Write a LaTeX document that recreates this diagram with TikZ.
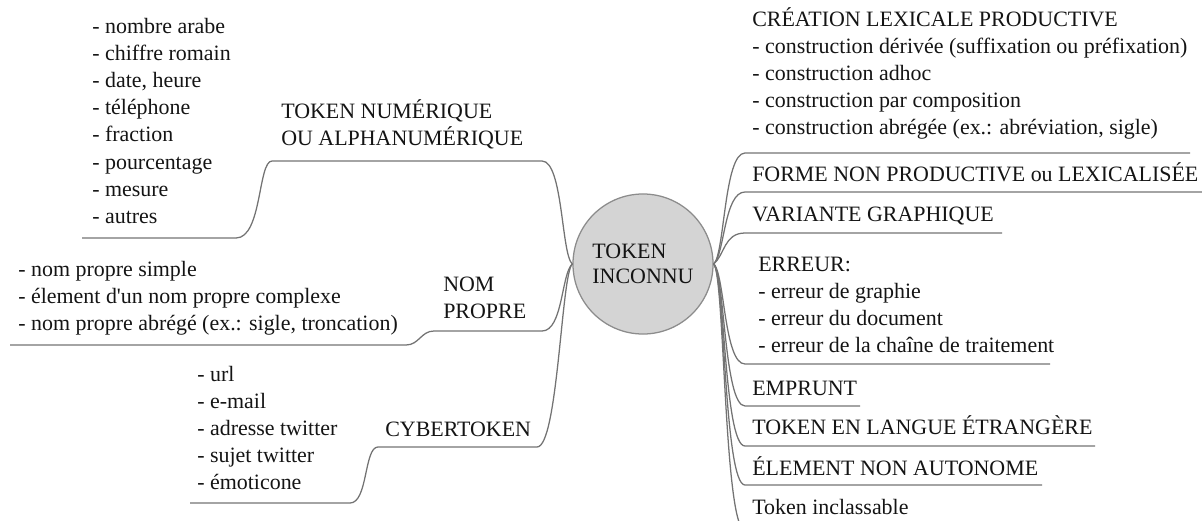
\documentclass[tikz,border=0pt]{standalone}
\usepackage{fontspec}
\setmainfont{Liberation Serif}
\begin{document}
\begin{tikzpicture}[x=0.025cm, y=-0.025cm,
  branch/.style={draw=black!55, line width=0.9pt},
  txt/.style={anchor=base west, inner sep=0pt, text=black!92,
    font=\fontsize{15.6}{19}\selectfont},
  hub/.style={circle, draw=black!45, line width=0.9pt, fill=black!17,
    minimum size=3.5cm, inner sep=0pt, align=left, text=black!92,
    font=\fontsize{15.6}{17.8}\selectfont}]
  \def\Xr{752}
  \def\dy{27.2}
  \useasboundingbox (0,0) rectangle (1202,520);
  \clip (0,0) rectangle (1202,520);

  % centre
  \node[hub] (hub) at (643,264) {TOKEN\\INCONNU};

  % branches right
  \foreach \y/\e/\s [count=\i] in {153/1190/-9, 192/1202/-9, 233/1002/-9,
      364/1050/9, 406/860/9, 446/1095/9, 485/1042/9, 530/1202/9}{
    \coordinate (r\i) at (745,\y);
    \coordinate (r\i e) at (\e,\y);
    \draw[branch] (hub.east) .. controls +(11,\s) and +(-21,0) .. (r\i) -- (r\i e);
  }

  % branches left
  \coordinate (numE) at (542,161);
  \coordinate (numW) at (272,161);
  \coordinate (numS) at (236,238);
  \coordinate (numL) at (82,238);
  \draw[branch] (hub.west) .. controls +(-11,-9) and +(21,0) .. (numE) -- (numW)
    .. controls +(-14,0) and +(26,0) .. (numS) -- (numL);
  \coordinate (nomE) at (542,331);
  \coordinate (nomW) at (434,331);
  \coordinate (nomS) at (406,345);
  \coordinate (nomL) at (10,345);
  \draw[branch] (hub.west) .. controls +(-11,9) and +(21,0) .. (nomE) -- (nomW)
    .. controls +(-13,0) and +(13,0) .. (nomS) -- (nomL);
  \coordinate (cybE) at (537,447);
  \coordinate (cybW) at (378,447);
  \coordinate (cybS) at (350,503);
  \coordinate (cybL) at (190,503);
  \draw[branch] (hub.west) .. controls +(-11,9) and +(21,0) .. (cybE) -- (cybW)
    .. controls +(-14,0) and +(18,0) .. (cybS) -- (cybL);

  % labels right
  \foreach \t [count=\i] in {CRÉATION LEXICALE PRODUCTIVE,
      - construction dérivée (suffixation ou préfixation),
      - construction adhoc, - construction par composition,
      {- construction abrégée (ex.: abréviation, sigle)}}
    \node[txt] (cre\i) at (\Xr, {26+\dy*(\i-1)}) {\t};
  \node[txt] (forme) at (\Xr,181) {FORME NON PRODUCTIVE ou LEXICALISÉE};
  \node[txt] (var) at (\Xr,221) {VARIANTE GRAPHIQUE};
  \foreach \t [count=\i] in {ERREUR:, - erreur de graphie, - erreur du document,
      - erreur de la chaîne de traitement}
    \node[txt] (err\i) at (758, {271+\dy*(\i-1)}) {\t};
  \node[txt] (emp) at (\Xr,395) {EMPRUNT};
  \node[txt] (etr) at (\Xr,434) {TOKEN EN LANGUE ÉTRANGÈRE};
  \node[txt] (elt) at (\Xr,475) {ÉLEMENT NON AUTONOME};
  \node[txt] (incl) at (\Xr,514) {Token inclassable};

  % labels left
  \node[txt] (num1) at (281,118) {TOKEN NUMÉRIQUE};
  \node[txt] (num2) at (281,145) {OU ALPHANUMÉRIQUE};
  \foreach \t [count=\i] in {nombre arabe, chiffre romain, {date, heure},
      téléphone, fraction, pourcentage, mesure, autres}
    \node[txt] (numl\i) at (92, {33+\dy*(\i-1)}) {- \t};
  \node[txt] (nom1) at (443,291) {NOM};
  \node[txt] (nom2) at (443,318) {PROPRE};
  \foreach \t [count=\i] in {nom propre simple,
      élement d\textquotesingle un nom propre complexe,
      {nom propre abrégé (ex.: sigle, troncation)}}
    \node[txt] (noml\i) at (18, {276+\dy*(\i-1)}) {- \t};
  \node[txt] (cyb) at (385,436) {CYBERTOKEN};
  \foreach \t [count=\i] in {url, e-mail, adresse twitter, sujet twitter, émoticone}
    \node[txt] (cybl\i) at (197, {381+\dy*(\i-1)}) {- \t};

\end{tikzpicture}
\end{document}
